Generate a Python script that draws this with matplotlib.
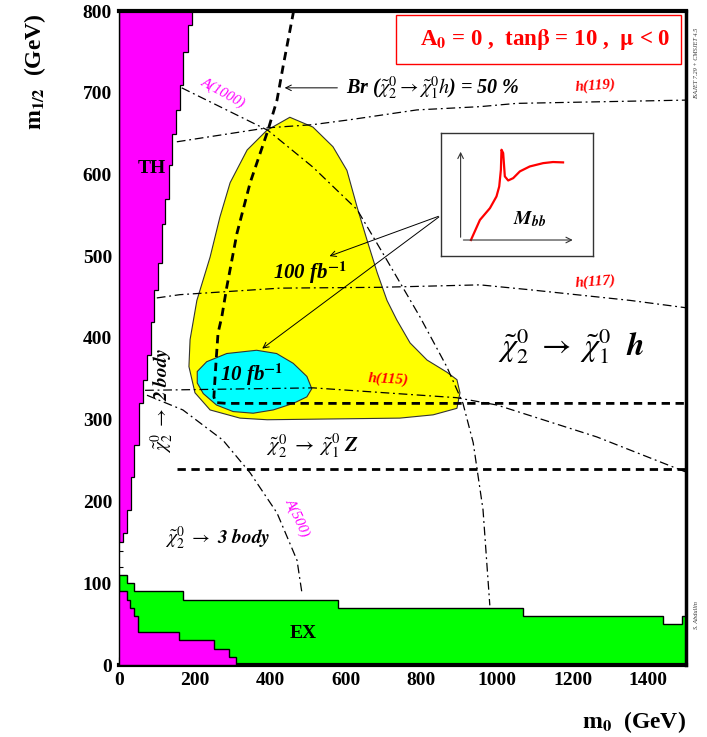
import numpy as np
import matplotlib
matplotlib.use("Agg")
import matplotlib.pyplot as plt
from matplotlib.patches import Polygon, Rectangle

plt.rcParams["font.family"] = ["Liberation Serif", "DejaVu Serif"]
plt.rcParams["mathtext.fontset"] = "stix"

# theoretically excluded (TH) staircase: y edges and boundary m0 per step
th_y = [150, 161, 190, 230, 269, 320, 349, 379, 420, 459, 492, 540, 570, 612, 650, 679, 709, 750, 783, 800]
th_x = [11, 20, 31, 40, 54, 63, 74, 84, 93, 104, 113, 122, 132, 141, 151, 161, 170, 183, 193]

# experimentally excluded (EX) staircase: m0 edges and m1/2 heights
ex_x = [0, 20, 40, 170, 580, 1070, 1440, 1490, 1500]
ex_y = [110, 100, 90, 80, 70, 60, 50, 60]

# lower TH staircase
thb_x = [0, 20, 30, 40, 50, 160, 250, 290, 310]
thb_y = [90, 80, 70, 60, 40, 30, 20, 10]

# 100 fb-1 reach contour
c100_x = [452, 513, 566, 603, 630, 656, 683, 709, 735, 770, 815, 868, 894, 902, 894, 831, 743, 392,
          320, 241, 201, 185, 188, 206, 241, 267, 294, 339, 391]
c100_y = [670, 658, 634, 605, 560, 520, 480, 446, 422, 394, 373, 358, 349, 333, 314, 306, 302, 300,
          302, 312, 333, 365, 398, 446, 499, 548, 590, 630, 654]

# 10 fb-1 reach contour
c10_x = [232, 285, 364, 417, 461, 497, 510, 497, 461, 408, 355, 302, 258, 223, 207, 207]
c10_y = [371, 381, 385, 381, 369, 353, 338, 328, 320, 312, 308, 310, 318, 332, 345, 359]

# Br = 50% line
br_x = [462, 434, 418, 394, 347, 312, 285, 272, 262, 257, 251, 256, 285, 1500]
br_y = [800, 732, 691, 654, 590, 528, 462, 426, 406, 373, 328, 321, 320, 320]

# chi2 -> chi1 Z threshold
z_x = [153, 1500]
z_y = [240, 240]

# Higgs mass contours
h119_x = [153, 391, 513, 611, 788, 955, 1052, 1500]
h119_y = [640, 657, 661, 667, 679, 683, 687, 691]
h117_x = [100, 161, 426, 690, 955, 1087, 1352, 1500]
h117_y = [449, 453, 461, 462, 465, 459, 446, 437]
h115_x = [69, 514, 893, 1000, 1264, 1500]
h115_y = [336, 339, 327, 318, 279, 236]

# A mass contours
a1000_x = [166, 394, 513, 630, 709, 796, 867, 910, 937, 963, 981]
a1000_y = [706, 654, 609, 557, 495, 426, 365, 320, 272, 190, 73]
a500_x = [74, 169, 275, 347, 418, 471, 484]
a500_y = [330, 312, 275, 235, 186, 128, 88]

# inset M_bb sketch (arbitrary units)
mbb_u = [0.197, 0.256, 0.322, 0.365, 0.383, 0.394, 0.398, 0.409, 0.420, 0.442, 0.475, 0.519, 0.584,
         0.672, 0.737, 0.803]
mbb_v = [0.130, 0.293, 0.389, 0.484, 0.565, 0.701, 0.864, 0.837, 0.647, 0.614, 0.633, 0.688, 0.728,
         0.755, 0.764, 0.761]


def step_poly(edges, heights):
    pts = [(edges[0], 0)]
    for i, h in enumerate(heights):
        pts.append((edges[i], h))
        pts.append((edges[i + 1], h))
    pts.append((edges[-1], 0))
    return pts


fig = plt.figure(figsize=(7.07, 7.37), dpi=100)
ax = fig.add_axes([119 / 707, 72 / 737, 567 / 707, 654 / 737])
ax.set_xlim(0, 1500)
ax.set_ylim(0, 800)

# TH upper staircase
pts = [(0, th_y[0])]
for i, xb in enumerate(th_x):
    pts.append((xb, th_y[i]))
    pts.append((xb, th_y[i + 1]))
pts.append((0, th_y[-1]))
ax.add_patch(Polygon(pts, closed=True, fc="#ff00ff", ec="black", lw=0.9, zorder=2))

ax.add_patch(Polygon(step_poly(ex_x, ex_y), closed=True, fc="#00ff00", ec="black", lw=1.0, zorder=2))
ax.add_patch(Polygon(step_poly(thb_x, thb_y), closed=True, fc="#ff00ff", ec="black", lw=1.0, zorder=3))

ax.add_patch(Polygon(list(zip(c100_x, c100_y)), closed=True, fc="#ffff00", ec="#333333", lw=0.8, zorder=3))
ax.add_patch(Polygon(list(zip(c10_x, c10_y)), closed=True, fc="#00ffff", ec="#333333", lw=0.8, zorder=4))

dd = dict(color="black", lw=0.9, dashes=(7, 3, 1.5, 3), zorder=5)
for xs, ys in [(h119_x, h119_y), (h117_x, h117_y), (h115_x, h115_y), (a1000_x, a1000_y), (a500_x, a500_y)]:
    ax.plot(xs, ys, **dd)
ax.plot(br_x, br_y, color="black", lw=2.0, dashes=(3, 2), zorder=6)
ax.plot(z_x, z_y, color="black", lw=2.0, dashes=(3, 2), zorder=6)

# labels on the plane
ax.text(87, 607, "TH", fontsize=14, fontweight="bold", ha="center", va="center", zorder=7)
ax.text(487, 38, "EX", fontsize=14, fontweight="bold", ha="center", va="center", zorder=7)
ax.text(275, 700, "A(1000)", color="#ff00ff", fontsize=10.5, style="italic", rotation=-29,
        ha="center", va="center", zorder=7)
ax.text(471, 180, "A(500)", color="#ff00ff", fontsize=10.5, style="italic", rotation=-65,
        ha="center", va="center", zorder=7)
ax.text(1260, 709, "h(119)", color="red", fontsize=11, style="italic", fontweight="bold", rotation=4,
        ha="center", va="center", zorder=7)
ax.text(1260, 469, "h(117)", color="red", fontsize=11, style="italic", fontweight="bold", rotation=4,
        ha="center", va="center", zorder=7)
ax.text(713, 349, "h(115)", color="red", fontsize=11, style="italic", fontweight="bold", rotation=-3,
        ha="center", va="center", zorder=7)
ax.text(408, 480, r"100 fb$^{\mathbf{-1}}$", fontsize=15, style="italic", fontweight="bold",
        ha="left", va="center", zorder=7)
ax.text(267, 355, r"10 fb$^{\mathbf{-1}}$", fontsize=15, style="italic", fontweight="bold",
        ha="left", va="center", zorder=7)
ax.text(600, 706, r"Br ($\tilde{\chi}^0_2 \rightarrow \tilde{\chi}^0_1 h$) = 50 %", fontsize=14.5,
        style="italic", fontweight="bold", ha="left", va="center", zorder=7)
ax.annotate("", xy=(431, 706), xytext=(585, 706),
            arrowprops=dict(arrowstyle="->", lw=0.7, color="black"), zorder=7)
ax.text(1003, 390, r"$\tilde{\chi}^0_2\ \rightarrow\ \tilde{\chi}^0_1\ \ \mathbfit{h}$", fontsize=23,
        ha="left", va="center", zorder=7)
ax.text(512, 267, r"$\tilde{\chi}^0_2\ \rightarrow\ \tilde{\chi}^0_1\ \mathbfit{Z}$", fontsize=15,
        ha="center", va="center", zorder=7)
ax.text(122, 155, r"$\tilde{\chi}^0_2\ \rightarrow\ \mathbfit{3\ body}$", fontsize=14,
        ha="left", va="center", zorder=7)
ax.text(114, 324, r"$\tilde{\chi}^0_2\ \rightarrow\ \mathbfit{2\ body}$", fontsize=14, rotation=90,
        ha="center", va="center", zorder=7)

# parameter box
ax.add_patch(Rectangle((733, 735), 754, 60, fill=False, ec="red", lw=1.0, zorder=7))
ax.text(1127, 765, r"A$_\mathbf{0}$ = 0 ,  tan$\mathbf{\beta}$ = 10 ,  $\mathbf{\mu}$ < 0", color="red",
        fontsize=16.5, fontweight="bold", ha="center", va="center", zorder=8)

# arrows from the inset
for tip in [(550, 499), (373, 385)]:
    ax.annotate("", xy=tip, xytext=(852, 550),
                arrowprops=dict(arrowstyle="->", lw=0.7, color="black"), zorder=7)

# axes styling
ax.set_xticks(np.arange(0, 1501, 200))
ax.set_yticks(np.arange(0, 801, 100))
ax.set_xticks(np.arange(0, 1501, 50), minor=True)
ax.set_yticks(np.arange(0, 801, 20), minor=True)
ax.tick_params(which="both", direction="in", top=False, right=False, width=0.8)
ax.tick_params(which="major", length=6, labelsize=14, pad=5)
ax.tick_params(which="minor", length=3)
for lab in ax.get_xticklabels() + ax.get_yticklabels():
    lab.set_fontweight("bold")
ax.spines["left"].set_linewidth(1.0)
ax.spines["bottom"].set_linewidth(3.0)
ax.spines["top"].set_linewidth(3.0)
ax.spines["right"].set_linewidth(2.5)

fig.text(35 / 707, 1 - 72 / 737, r"m$_{\mathbf{1/2}}$  (GeV)", fontsize=17, fontweight="bold",
         rotation=90, ha="center", va="center")
fig.text(686 / 707, 1 - 722 / 737, r"m$_{\mathbf{0}}$  (GeV)", fontsize=17, fontweight="bold",
         ha="right", va="center")
fig.text(697 / 707, 1 - 63 / 737, "ISAJET 7.29 + CMSJET 4.5", fontsize=4.5, style="italic",
         rotation=90, ha="center", va="center", color="#333333")
fig.text(697 / 707, 1 - 615 / 737, "S. Abdullin", fontsize=4.5, style="italic",
         rotation=90, ha="center", va="center", color="#333333")

# inset sketch of the M_bb distribution
ins = fig.add_axes([441 / 707, 1 - 256 / 737, 152 / 707, 123 / 737])
ins.set_xlim(0, 1)
ins.set_ylim(0, 1)
ins.set_xticks([])
ins.set_yticks([])
for s in ins.spines.values():
    s.set_linewidth(1.0)
    s.set_color("#333333")
ins.annotate("", xy=(0.129, 0.87), xytext=(0.129, 0.13),
             arrowprops=dict(arrowstyle="->", lw=0.8, color="#333333"))
ins.annotate("", xy=(0.885, 0.13), xytext=(0.129, 0.13),
             arrowprops=dict(arrowstyle="->", lw=0.8, color="#333333"))
ins.plot(mbb_u, mbb_v, color="red", lw=1.6)
ins.text(0.584, 0.30, r"$\mathbfit{M}_{\mathbfit{bb}}$", fontsize=14, ha="center", va="center")

fig.savefig("out.png", dpi=100)
